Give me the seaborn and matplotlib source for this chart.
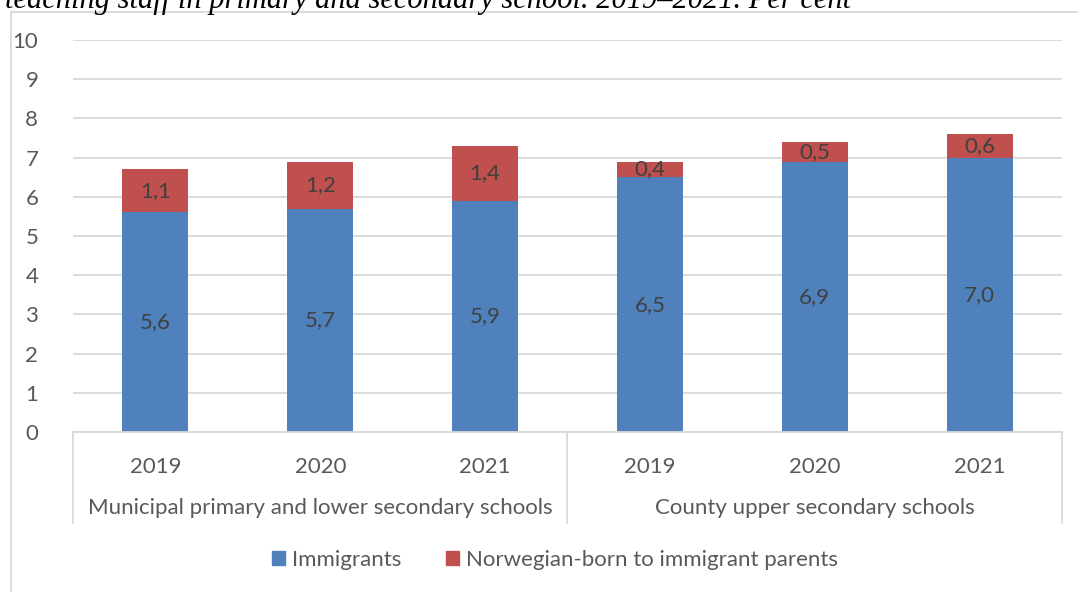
import matplotlib
matplotlib.use("Agg")
import matplotlib.pyplot as plt
import matplotlib.patches as mpatches
import matplotlib.transforms as mtransforms
import seaborn as sns
import pandas as pd

# Data
groups = ["Municipal primary and lower secondary schools", "County upper secondary schools"]
years = ["2019", "2020", "2021"]
immigrants = [5.6, 5.7, 5.9, 6.5, 6.9, 7.0]
norwegian_born = [1.1, 1.2, 1.4, 0.4, 0.5, 0.6]
series_names = ["Immigrants", "Norwegian-born to immigrant parents"]
y_ticks = list(range(0, 11))
title = "teaching staff in primary and secondary school. 2019–2021. Per cent"

BLUE = "#4F81BD"
RED = "#C0504D"
GRID = "#D9D9D9"
TXT = "#595959"
LBL = "#404040"
FONT = ["Lato", "DejaVu Sans"]
FS = 16

sns.set_theme(style="white")
plt.rcParams["font.family"] = FONT

keys = [f"{g}|{y}" for g in groups for y in years]
df = pd.DataFrame({
    "key": keys,
    "imm": immigrants,
    "nor": norwegian_born,
})
df["total"] = df["imm"] + df["nor"]

fig = plt.figure(figsize=(10.78, 5.92), dpi=100)
W, H = 1078, 592
ax = fig.add_axes([73 / W, 1 - 432 / H, (1062 - 73) / W, (432 - 40) / H])

# Stacked bars: total (red) first, immigrants (blue) on top of it
sns.barplot(data=df, x="key", y="total", color=RED, width=0.4, ax=ax,
            saturation=1, order=keys, errorbar=None, linewidth=0)
sns.barplot(data=df, x="key", y="imm", color=BLUE, width=0.4, ax=ax,
            saturation=1, order=keys, errorbar=None, linewidth=0)

ax.set_xlim(-0.5, len(keys) - 0.5)
ax.set_ylim(0, 10)
ax.set_yticks(y_ticks)
ax.set_yticklabels([str(t) for t in y_ticks], color=TXT, fontsize=FS)
ax.set_xticks(range(len(keys)))
ax.set_xticklabels(years * len(groups), color=TXT, fontsize=FS)
ax.tick_params(axis="both", length=0)
ax.tick_params(axis="x", pad=18)
ax.tick_params(axis="y", pad=25)
ax.set_xlabel("")
ax.set_ylabel("")
ax.yaxis.grid(True, color=GRID, linewidth=1.3)
ax.set_axisbelow(True)
for s in ["top", "right", "left"]:
    ax.spines[s].set_visible(False)
ax.spines["bottom"].set_color(GRID)
ax.spines["bottom"].set_linewidth(1.3)

# Data labels
for i, row in df.iterrows():
    ax.text(i, row["imm"] / 2, f"{row['imm']:.1f}".replace(".", ","),
            ha="center", va="center", color=LBL, fontsize=FS)
    ax.text(i, row["imm"] + row["nor"] / 2, f"{row['nor']:.1f}".replace(".", ","),
            ha="center", va="center", color=LBL, fontsize=FS)

# Multi-level category axis: separators and group labels
trans = mtransforms.blended_transform_factory(ax.transData, ax.transAxes)
sep_depth = (523 - 432) / (432 - 40)
n_per = len(years)
for k in range(len(groups) + 1):
    xs = k * n_per - 0.5
    ax.plot([xs, xs], [0, -sep_depth], transform=trans, color=GRID,
            linewidth=1.3, clip_on=False)
for k, g in enumerate(groups):
    xc = k * n_per + (n_per - 1) / 2
    ax.text(xc, -(508 - 432) / (432 - 40), g, transform=trans, ha="center",
            va="center", color=TXT, fontsize=FS)

# Legend
handles = [mpatches.Patch(color=BLUE, label=series_names[0]),
           mpatches.Patch(color=RED, label=series_names[1])]
fig.legend(handles=handles, loc="center", bbox_to_anchor=(555 / W, 1 - 560 / H),
           ncol=2, frameon=False, fontsize=FS, labelcolor=TXT,
           handlelength=0.6, handleheight=0.6, handletextpad=0.3,
           columnspacing=2.0)

# Chart frame
frame = mpatches.Rectangle((10.5 / W, -0.05), 1.1, 1 - 12 / H + 0.05,
                           transform=fig.transFigure, fill=False,
                           edgecolor=GRID, linewidth=1.3)
fig.patches.append(frame)

# Caption line above the chart
fig.text(5 / W, 1 - 8 / H, title, ha="left", va="baseline",
         fontsize=22, style="italic", family=["Liberation Serif", "DejaVu Serif"],
         color="#000000")

fig.savefig("out.png", dpi=100, facecolor="white")
